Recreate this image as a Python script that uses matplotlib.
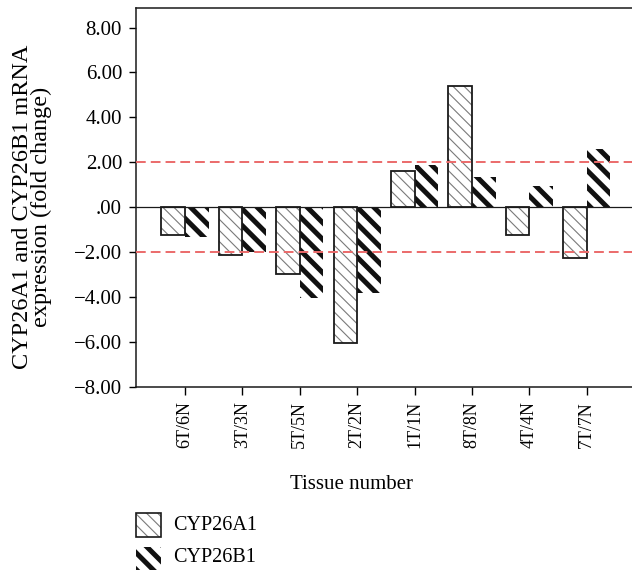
import matplotlib
matplotlib.use("Agg")
from matplotlib import pyplot as plt
from matplotlib import patches as mpatches
from matplotlib.ticker import FuncFormatter, MultipleLocator

tissues = ['6T/6N', '3T/3N', '5T/5N', '2T/2N', '1T/1N', '8T/8N', '4T/4N', '7T/7N']
cyp26a1 = [-1.24, -2.14, -2.95, -6.06, 1.62, 5.38, -1.24, -2.26]
cyp26b1 = [-1.33, -1.98, -4.06, -3.81, 1.90, 1.33, 0.94, 2.58]
cutoffs = [2.0, -2.0]

plt.rcParams['font.family'] = ['Liberation Serif', 'DejaVu Serif']

W, H = 632, 571
fig = plt.figure(figsize=(W / 100, H / 100), dpi=100)
ax = fig.add_axes([136/W, 1-387/H, 496/W, 379/H])

x = list(range(len(tissues)))
w = 0.41
hatch_a = '\\\\\\'
hatch_b = '\\\\'

# CYP26A1: thin grey hatch + black outline
plt.rcParams['hatch.linewidth'] = 0.8
ax.bar(x, cyp26a1, width=-w, align='edge', color='white', edgecolor='#7a7a7a',
       linewidth=0, hatch=hatch_a, zorder=2)
ax.bar(x, cyp26a1, width=-w, align='edge', fill=False, edgecolor='#1a1a1a',
       linewidth=1.3, zorder=3)

# CYP26B1: thick black stripes, no outline
plt.rcParams['hatch.linewidth'] = 3.6
ax.bar(x, cyp26b1, width=w, align='edge', color='white', edgecolor='#111111',
       linewidth=0, hatch=hatch_b, zorder=2)

for c in cutoffs:
    ax.axhline(c, color='#eb6a6a', linewidth=1.4, linestyle=(0, (5, 2.6)), zorder=4)
ax.axhline(0, color='#1a1a1a', linewidth=0.9, zorder=5)

ax.set_xlim(-0.854, 7.787)
ax.set_ylim(-8, 8.87)
ax.yaxis.set_major_locator(MultipleLocator(2))


def fmt(v, pos):
    s = '%.2f' % abs(v)
    if s.startswith('0'):
        s = s[1:]
    return ('\u2212' + s) if v < -1e-9 else s


ax.yaxis.set_major_formatter(FuncFormatter(fmt))
ax.set_xticks(x)
ax.set_xticklabels(tissues, rotation=90, fontsize=13)
ax.tick_params(axis='y', labelsize=15, length=5, width=1, direction='out', pad=5)
ax.tick_params(axis='x', length=6, width=1, direction='out', pad=4)

for s in ['left', 'top', 'bottom']:
    ax.spines[s].set_linewidth(1.1)
    ax.spines[s].set_color('#1a1a1a')
ax.spines['right'].set_visible(False)

ax.set_xlabel('Tissue number', fontsize=15)
ax.xaxis.set_label_coords(0.435, -0.233)
fig.text(32/W, 1-207/H, 'CYP26A1 and CYP26B1 mRNA\nexpression (fold change)',
         rotation=90, ha='center', va='center', fontsize=17.5, linespacing=0.92)

# legend drawn by hand below the axes
plt.rcParams['hatch.linewidth'] = 0.8
fig.add_artist(mpatches.Rectangle((136/W, 1-537/H), 25/W, 24/H, transform=fig.transFigure,
                                  facecolor='white', edgecolor='#7a7a7a', linewidth=0,
                                  hatch=hatch_a))
fig.add_artist(mpatches.Rectangle((136/W, 1-537/H), 25/W, 24/H, transform=fig.transFigure,
                                  fill=False, edgecolor='#1a1a1a', linewidth=1.2))
plt.rcParams['hatch.linewidth'] = 3.6
fig.add_artist(mpatches.Rectangle((136/W, 1-570/H), 25/W, 23/H, transform=fig.transFigure,
                                  facecolor='white', edgecolor='#111111', linewidth=0,
                                  hatch=hatch_b))
fig.text(173/W, 1-525/H, 'CYP26A1', fontsize=14.5, va='center', ha='left')
fig.text(173/W, 1-558/H, 'CYP26B1', fontsize=14.5, va='center', ha='left')

fig.savefig('out.png', dpi=100)
